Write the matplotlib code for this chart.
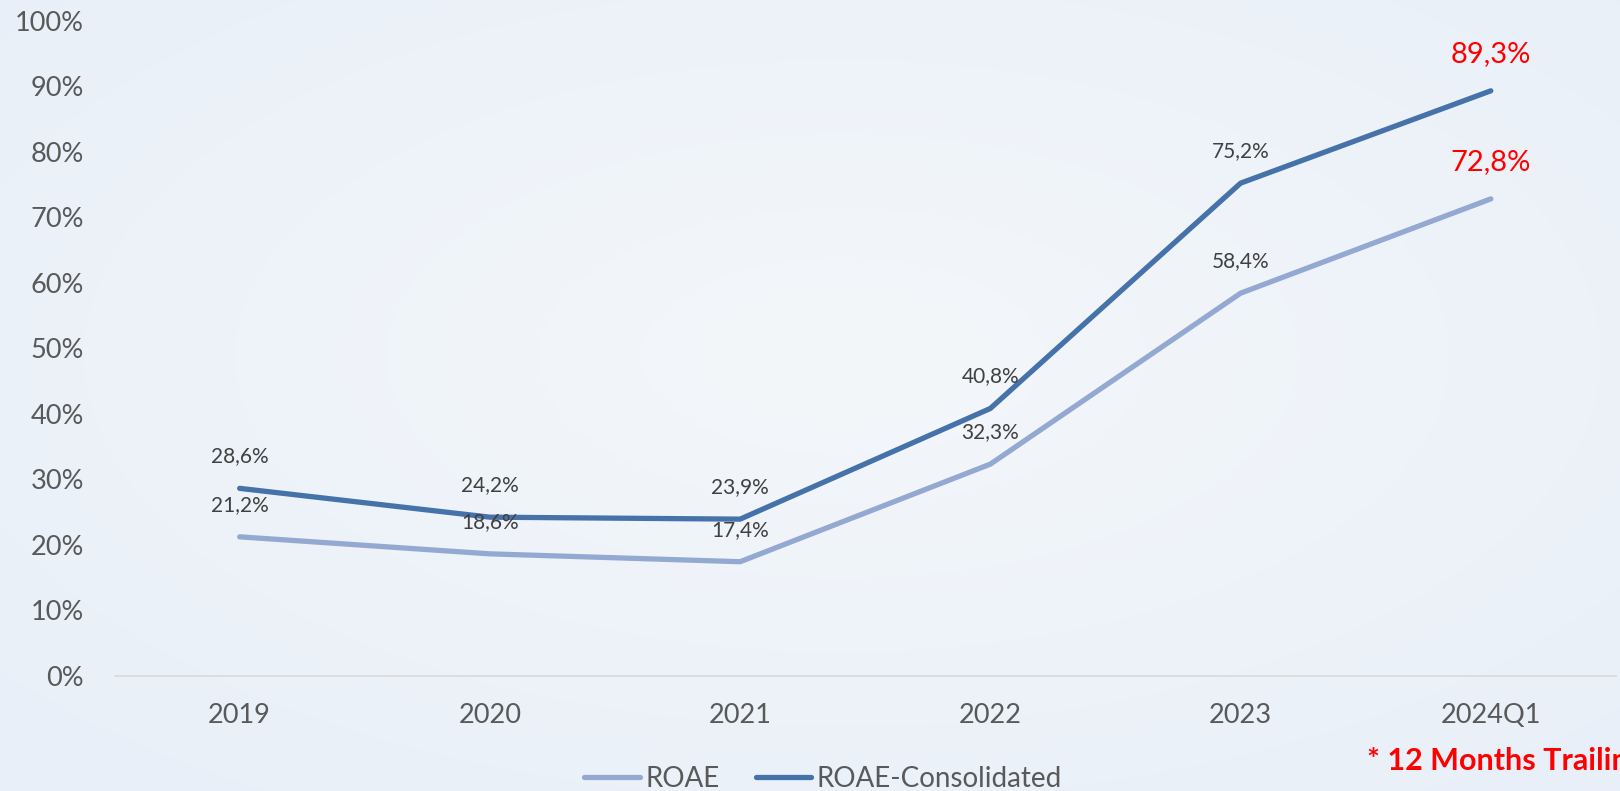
import matplotlib
matplotlib.use("Agg")
import matplotlib.pyplot as plt
import numpy as np

plt.rcParams["font.family"] = ["Lato", "DejaVu Sans"]

YEARS = ["2019", "2020", "2021", "2022", "2023", "2024Q1"]
ROAE = [21.2, 18.6, 17.4, 32.3, 58.4, 72.8]
ROAE_CONS = [28.6, 24.2, 23.9, 40.8, 75.2, 89.3]
ROAE_LABELS = ["21,2%", "18,6%", "17,4%", "32,3%", "58,4%", "72,8%"]
CONS_LABELS = ["28,6%", "24,2%", "23,9%", "40,8%", "75,2%", "89,3%"]
Y_TICKS = list(range(0, 101, 10))

LIGHT = "#94A9D2"
DARK = "#4672AA"
TEXT = "#595959"

fig = plt.figure(figsize=(16.2, 7.91), dpi=100)

# radial background
bg = fig.add_axes([0, 0, 1, 1], zorder=-10)
yy, xx = np.mgrid[0:1:400j, 0:1:800j]
r = np.sqrt(((xx - 0.52) / 0.75) ** 2 + ((yy - 0.45) / 0.75) ** 2)
r = np.clip(r, 0, 1)
c_in = np.array([0xF4, 0xF7, 0xFA]) / 255
c_out = np.array([0xE8, 0xEF, 0xF8]) / 255
img = c_in[None, None, :] * (1 - r[..., None]) + c_out[None, None, :] * r[..., None]
bg.imshow(img, aspect="auto", extent=[0, 1, 0, 1])
bg.axis("off")

ax = fig.add_axes([0.0707, 0.1458, 0.9268, 0.828])
ax.patch.set_alpha(0)
x = np.arange(len(YEARS))
l1, = ax.plot(x, ROAE, color=LIGHT, lw=3.8, solid_capstyle="round", label="ROAE")
l2, = ax.plot(x, ROAE_CONS, color=DARK, lw=3.8, solid_capstyle="round",
              label="ROAE-Consolidated")

last = len(YEARS) - 1
for i in range(len(YEARS)):
    if i == last:
        kw = dict(color="red", fontsize=21)
        off = 37
    else:
        kw = dict(color="#404040", fontsize=15)
        off = 32
    ax.annotate(ROAE_LABELS[i], (x[i], ROAE[i]), xytext=(0, off),
                textcoords="offset pixels", ha="center", va="center", **kw)
    ax.annotate(CONS_LABELS[i], (x[i], ROAE_CONS[i]), xytext=(0, off),
                textcoords="offset pixels", ha="center", va="center", **kw)

ax.set_xlim(-0.5, last + 0.5)
ax.set_ylim(0, 100)
ax.set_xticks(x)
ax.set_xticklabels(YEARS)
ax.set_yticks(Y_TICKS)
ax.set_yticklabels([f"{v}%" for v in Y_TICKS])
ax.tick_params(axis="both", length=0, labelsize=19.5, colors=TEXT)
ax.tick_params(axis="y", pad=22)
ax.tick_params(axis="x", pad=20)
for s in ["top", "right", "left"]:
    ax.spines[s].set_visible(False)
ax.spines["bottom"].set_color("#D9D9D9")
ax.spines["bottom"].set_linewidth(1.2)

leg = fig.legend(handles=[l1, l2], loc="center", bbox_to_anchor=(0.508, 0.015),
                 ncol=2, frameon=False, fontsize=20, handlelength=2.0,
                 handletextpad=0.2, columnspacing=1.3, labelcolor=TEXT)

fig.text(0.8438, 0.0265, "* 12 Months Trailing", color="red", fontsize=22,
         fontweight="bold", va="baseline", ha="left")

fig.savefig("out.png", dpi=100)
